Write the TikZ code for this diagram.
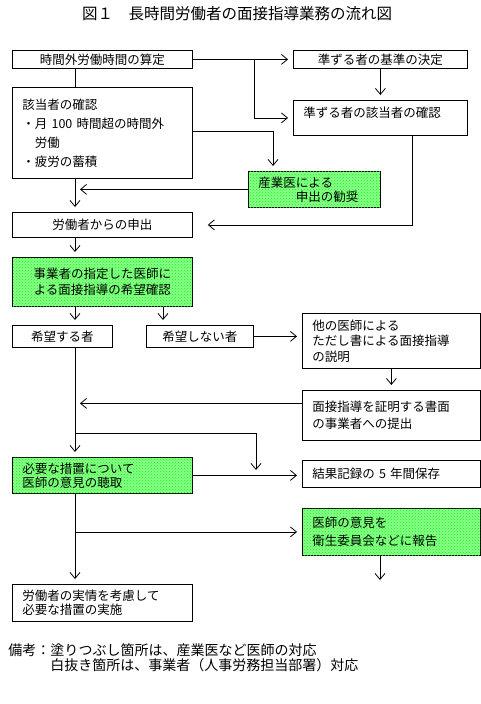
\documentclass[tikz,border=0pt]{standalone}
\usepackage{fontspec}
\setmainfont{Noto Sans CJK JP}
\usepackage{tikz}
\usetikzlibrary{arrows.meta,positioning,calc,patterns}

\begin{document}
\begin{tikzpicture}[x=1pt,y=-1pt,-{Straight Barb[length=6pt,width=10pt]},shorten >=5pt,line width=0.8pt,
  every node/.style={font=\fontsize{12.5}{16}\selectfont}]
\tikzstyle{box}=[draw,rectangle,anchor=north west,inner xsep=10pt,inner ysep=0pt]
  \tikzstyle{doctor}=[box,fill=green!45,postaction={pattern=crosshatch dots,pattern color=green}]
\useasboundingbox (0,0) rectangle (481,704);
%
\node[font=\fontsize{15.5}{18}\selectfont] (title) at (237,14) {図１　長時間労働者の面接指導業務の流れ図};
%
\node[box,text width=160,align=center,minimum height=18] (calc) at (12,50) {時間外労働時間の算定};
  \node[box,text width=154,align=center,minimum height=18] (basis) at (293,50) {準ずる者の基準の決定};
  \node[box,text width=154,align=left,minimum height=35,font=\fontsize{12.5}{11}\selectfont] (cand) at (293,100) {準ずる者の該当者の確認\\\mbox{}};
  \node[box,text width=160,align=left,minimum height=91,font=\fontsize{12.5}{19}\selectfont] (check) at (12,87) {該当者の確認\\・月 100 時間超の時間外\\\hspace*{1em}労働\\・疲労の蓄積};
  \node[doctor,text width=112,align=left,minimum height=36,font=\fontsize{12.5}{14}\selectfont] (advise) at (248,171) {産業医による\\\hspace*{3em}申出の勧奨};
  \node[box,text width=160,align=center,minimum height=25] (request) at (12,212) {労働者からの申出};
  \node[doctor,text width=160,align=center,minimum height=49] (confirm) at (12,257) {事業者の指定した医師に\\よる面接指導の希望確認};
  \node[box,text width=80,align=center,minimum height=22] (wish) at (12,325) {希望する者};
  \node[box,text width=87,align=center,minimum height=22] (nowish) at (146,325) {希望しない者};
  \node[box,text width=158,align=left,minimum height=55,font=\fontsize{12.5}{15.5}\selectfont] (other) at (302,313) {他の医師による\\ただし書による面接指導\\の説明};
  \node[box,text width=158,align=left,minimum height=50,font=\fontsize{12.5}{17}\selectfont] (proof) at (302,390) {面接指導を証明する書面\\の事業者への提出};
  \node[doctor,text width=160,align=left,minimum height=36,font=\fontsize{12.5}{14}\selectfont] (hear) at (12,457) {必要な措置について\\医師の意見の聴取};
  \node[box,text width=158,align=left,minimum height=27] (keep) at (302,460) {結果記録の 5 年間保存};
  \node[doctor,text width=158,align=left,minimum height=47,font=\fontsize{12.5}{18}\selectfont] (report) at (302,508) {医師の意見を\\衛生委員会などに報告};
  \node[box,text width=160,align=left,minimum height=37,font=\fontsize{12.5}{14}\selectfont] (act) at (12,584) {労働者の実情を考慮して\\必要な措置の実施};
%
\node[anchor=west,align=left,inner sep=0pt,font=\fontsize{14}{15}\selectfont] (note) at (8,658) {備考：塗りつぶし箇所は、産業医など医師の対応\\\hspace*{3em}白抜き箇所は、事業者（人事労務担当部署）対応};
%
\coordinate (spine) at (75,0);
  \coordinate (fork1) at (254,59);
  \coordinate (turn1) at (273,131);
  \coordinate (ret) at (412,0);
  \coordinate (nox) at (163,0);
  \coordinate (fork2) at (75,433);
  \coordinate (join2) at (256,475);
  \coordinate (tail) at (380,585);

  \draw (calc) -- (basis);
  \draw (fork1) |- (cand.west);
  \draw (basis) -- (cand);
  \draw[-,shorten >=0pt] (calc.south -| spine) -- (check.north -| spine);
  \draw (check.east |- turn1) -| (advise.north -| turn1);
  \draw (advise.west) -- (advise.west -| spine);
  \draw (check.south -| spine) -- (request.north -| spine);
  \draw (cand.south -| ret) |- ([xshift=10pt]request.east);
  \draw (request.south -| spine) -- (confirm.north -| spine);
  \draw (confirm.south -| spine) -- (wish.north -| spine);
  \draw (confirm.south -| nox) -- (nowish.north -| nox);
  \draw (nowish.east) -- (nowish.east -| other.west);
  \draw (other) -- (proof);
  \draw ([yshift=12pt]proof.west) -- ([yshift=12pt]proof.west -| spine);
  \draw (wish.south -| spine) -- (hear.north -| spine);
  \draw (fork2) -| (join2);
  \draw (hear.east) -- (hear.east -| keep.west);
  \draw (hear.south -| spine) -- (act.north -| spine);
  \draw (report.west -| spine) -- (report.west);
  \draw (report.south -| tail) -- (tail);
\end{tikzpicture}
\end{document}
